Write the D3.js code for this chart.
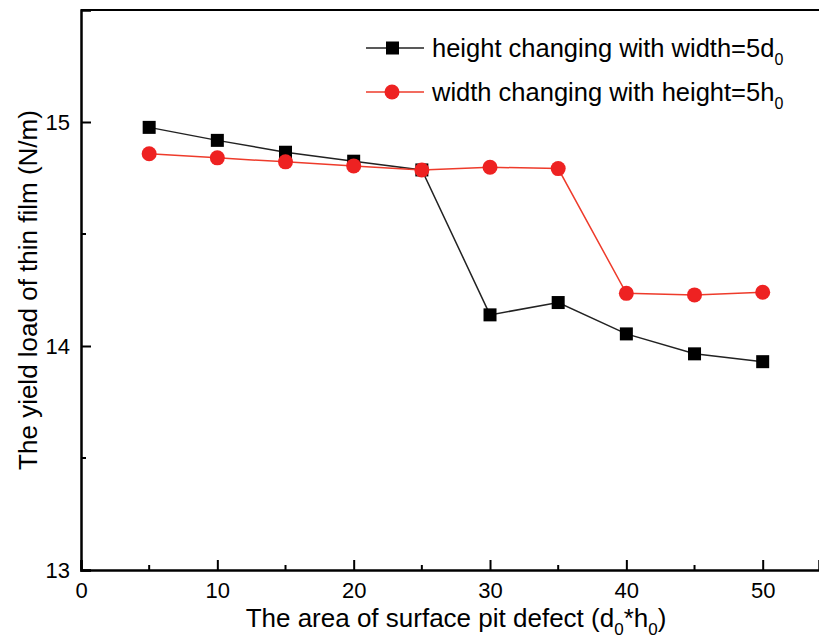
<!DOCTYPE html>
<html>
<head>
<meta charset="utf-8">
<script src="https://cdn.jsdelivr.net/npm/d3@7"></script>
<style>
  body { margin: 0; background: #fff; }
  svg { font-family: Arial, "Liberation Sans", sans-serif; }
</style>
</head>
<body>
<div id="chart"></div>
<script>
// data
const areas = [5, 10, 15, 20, 25, 30, 35, 40, 45, 50];
const heightSeries = [14.976, 14.918, 14.865, 14.825, 14.786, 14.139, 14.194, 14.054, 13.965, 13.93];
const widthSeries = [14.858, 14.840, 14.822, 14.804, 14.786, 14.798, 14.792, 14.235, 14.228, 14.24];
const xTicks = [0, 10, 20, 30, 40, 50];
const yTicks = [13, 14, 15];

const W = 819, H = 638;
const margin = { top: 10, right: 0, bottom: 68, left: 81 };
const width = W - margin.left - margin.right;
const height = H - margin.top - margin.bottom;

const svg = d3.select("#chart")
    .append("svg")
    .attr("width", W)
    .attr("height", H)
    .append("g")
    .attr("transform", "translate(" + margin.left + "," + margin.top + ")");

const x = d3.scaleLinear().domain([0, 54.13]).range([0, width]);
const y = d3.scaleLinear().domain([13, 15.5]).range([height, 0]);

// top border
svg.append("line")
    .attr("x1", 0).attr("x2", width)
    .attr("y1", 0).attr("y2", 0)
    .attr("stroke", "#000").attr("stroke-width", 2);

// x axis, ticks pointing in
const xAxis = svg.append("g")
    .attr("transform", "translate(0," + height + ")")
    .call(d3.axisBottom(x).tickValues(xTicks).tickSize(-10).tickPadding(14).tickFormat(d3.format("d")));
xAxis.append("g").selectAll("line")
    .data([5, 15, 25, 35, 45])
    .enter().append("line")
    .attr("x1", d => x(d)).attr("x2", d => x(d))
    .attr("y1", 0).attr("y2", -5)
    .attr("stroke", "#000").attr("stroke-width", 2);

// y axis, ticks pointing in
const yAxis = svg.append("g")
    .call(d3.axisLeft(y).tickValues(yTicks).tickSize(-10).tickPadding(12).tickFormat(d3.format("d")));
yAxis.append("g").selectAll("line")
    .data([13.5, 14.5])
    .enter().append("line")
    .attr("x1", 0).attr("x2", 5)
    .attr("y1", d => y(d)).attr("y2", d => y(d))
    .attr("stroke", "#000").attr("stroke-width", 2);

[xAxis, yAxis].forEach(a => {
    a.select(".domain").attr("stroke-width", 2.5);
    a.selectAll(".tick line").attr("stroke-width", 2);
    a.selectAll(".tick text").attr("font-size", 22).attr("fill", "#000")
        .attr("font-family", "Arial, 'Liberation Sans', sans-serif");
});
xAxis.selectAll(".tick text").attr("dy", null).attr("y", 28);
yAxis.selectAll(".tick text").attr("x", -11);

// axis titles
const xt = svg.append("text")
    .attr("x", 375).attr("y", height + 57)
    .attr("text-anchor", "middle")
    .attr("font-size", 26);
xt.append("tspan").text("The area of surface pit defect (d");
xt.append("tspan").text("0").attr("font-size", 17).attr("dy", 8);
xt.append("tspan").text("*h").attr("dy", -8);
xt.append("tspan").text("0").attr("font-size", 17).attr("dy", 8);
xt.append("tspan").text(")").attr("dy", -8);

svg.append("text")
    .attr("transform", "translate(-44," + 280 + ") rotate(-90)")
    .attr("text-anchor", "middle")
    .attr("font-size", 26)
    .text("The yield load of thin film (N/m)");

// lines
const line = d3.line().x(d => x(d[0])).y(d => y(d[1]));
const blackPts = areas.map((a, i) => [a, heightSeries[i]]);
const redPts = areas.map((a, i) => [a, widthSeries[i]]);

svg.append("path").datum(blackPts)
    .attr("d", line).attr("fill", "none")
    .attr("stroke", "#222").attr("stroke-width", 1.5);
svg.append("path").datum(redPts)
    .attr("d", line).attr("fill", "none")
    .attr("stroke", "#ee3b2b").attr("stroke-width", 1.5);

svg.append("g").selectAll("rect")
    .data(blackPts)
    .enter().append("rect")
    .attr("x", d => x(d[0]) - 6.5)
    .attr("y", d => y(d[1]) - 6.5)
    .attr("width", 13).attr("height", 13)
    .attr("fill", "#000");

svg.append("g").selectAll("circle")
    .data(redPts)
    .enter().append("circle")
    .attr("cx", d => x(d[0]))
    .attr("cy", d => y(d[1]))
    .attr("r", 7.5)
    .attr("fill", "#ee2222");

// legend
const legend = svg.append("g").attr("transform", "translate(" + (366 - margin.left) + "," + (48 - margin.top) + ")");
const items = [
    { color: "#222", marker: "square", label: "height changing with width=5d" },
    { color: "#ee3b2b", marker: "circle", label: "width changing with height=5h" }
];
items.forEach((it, i) => {
    const g = legend.append("g").attr("transform", "translate(0," + (i * 44) + ")");
    g.append("line").attr("x1", 0).attr("x2", 58).attr("y1", 0).attr("y2", 0)
        .attr("stroke", it.color).attr("stroke-width", 1.5);
    if (it.marker === "square") {
        g.append("rect").attr("x", 20).attr("y", -6.5).attr("width", 13).attr("height", 13).attr("fill", "#000");
    } else {
        g.append("circle").attr("cx", 26).attr("cy", 0).attr("r", 7.5).attr("fill", "#ee2222");
    }
    const t = g.append("text").attr("x", 66).attr("y", 9).attr("font-size", 25.5);
    t.append("tspan").text(it.label);
    t.append("tspan").text("0").attr("font-size", 16).attr("dy", 8);
});
</script>
</body>
</html>
